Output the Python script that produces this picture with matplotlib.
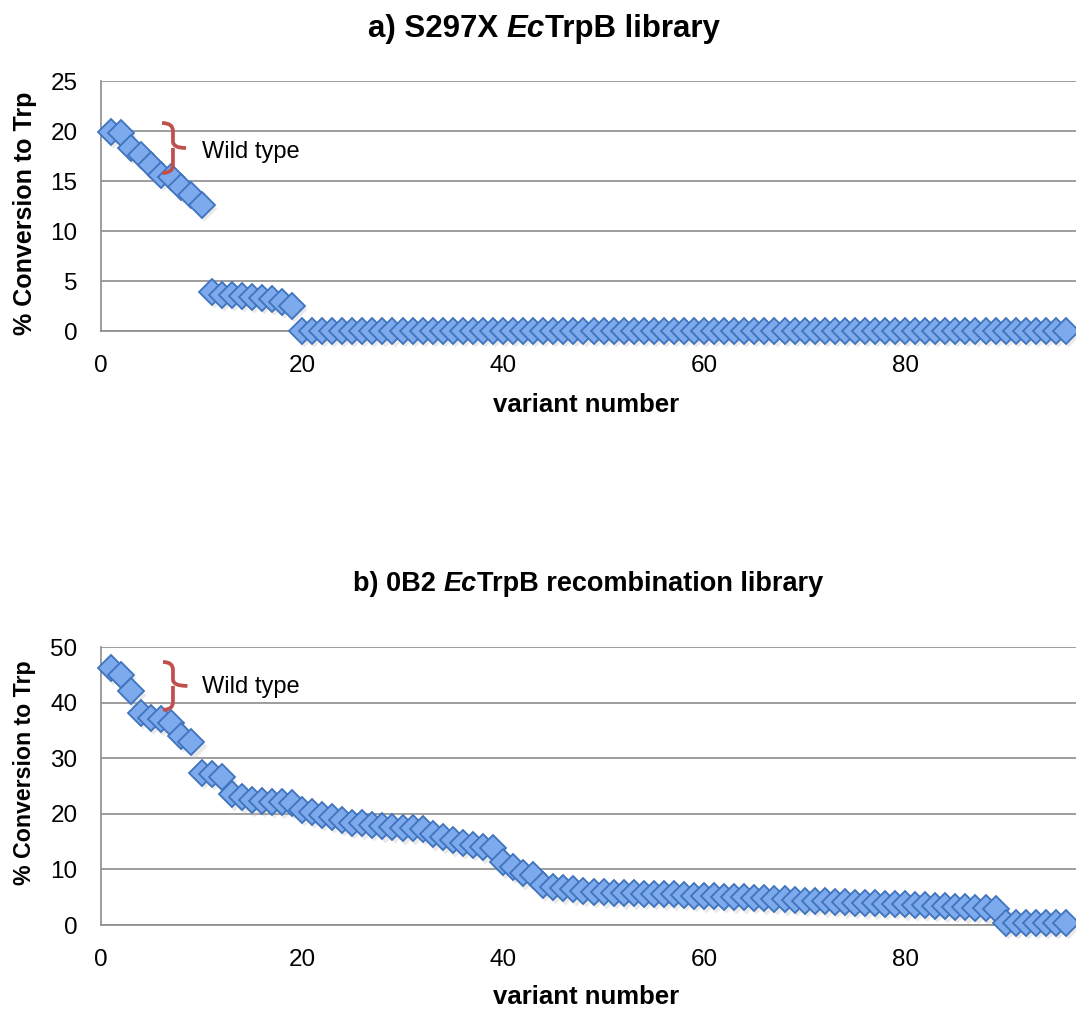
import matplotlib
matplotlib.use("Agg")
import matplotlib.pyplot as plt
import matplotlib.transforms as mtransforms
from matplotlib.path import Path
from matplotlib.patches import PathPatch
from matplotlib.offsetbox import TextArea, HPacker, AnnotationBbox

plt.rcParams["font.family"] = ["Liberation Sans", "DejaVu Sans"]

# panel a) S297X library
variant_a = list(range(1, 97))
conv_a = ([19.9, 19.8, 18.3, 17.6, 16.6, 15.6, 15.4, 14.4, 13.6, 12.6,
           3.9, 3.6, 3.6, 3.5, 3.4, 3.3, 3.2, 2.9, 2.5]
          + [0.0] * 77)

# panel b) 0B2 recombination library
variant_b = list(range(1, 97))
conv_b = [46.2, 45.0, 42.0, 38.2, 37.3, 37.0, 36.4, 34.0, 32.9, 27.4,
          27.2, 26.6, 23.5, 23.0, 22.4, 22.3, 22.2, 22.1, 22.0, 20.7,
          20.4, 19.8, 19.5, 18.9, 18.4, 18.3, 18.0, 17.8, 17.7, 17.4,
          17.4, 17.3, 16.3, 15.8, 15.2, 14.8, 14.4, 14.0, 13.8, 11.3,
          10.5, 9.3, 9.0, 7.2, 6.8, 6.6, 6.4, 6.2, 6.0, 5.9,
          5.8, 5.7, 5.7, 5.6, 5.6, 5.5, 5.5, 5.4, 5.3, 5.2,
          5.2, 5.1, 5.0, 5.0, 4.9, 4.8, 4.7, 4.6, 4.5, 4.4,
          4.4, 4.3, 4.2, 4.1, 4.0, 3.9, 3.9, 3.8, 3.8, 3.7,
          3.6, 3.6, 3.5, 3.4, 3.3, 3.2, 3.1, 3.0, 2.9, 0.4,
          0.4, 0.4, 0.4, 0.4, 0.4, 0.4]

xticks = [0, 20, 40, 60, 80]
yticks_a = [0, 5, 10, 15, 20, 25]
yticks_b = [0, 10, 20, 30, 40, 50]

GRID = "#8c8c8c"
FACE = "#7DAAEC"
EDGE = "#3E73BE"
BRACKET = "#C0504D"


def style_axes(ax, yticks):
    ax.set_xlim(0, 97)
    ax.set_ylim(yticks[0], yticks[-1])
    ax.set_xticks(xticks)
    ax.set_yticks(yticks)
    ax.grid(axis="y", color=GRID, lw=1.2)
    ax.set_axisbelow(True)
    for side in ("top", "right"):
        ax.spines[side].set_visible(False)
    for side in ("left", "bottom"):
        ax.spines[side].set_color(GRID)
        ax.spines[side].set_linewidth(1.2)
    ax.tick_params(length=0, labelsize=17.5, pad=17)


def draw_points(ax, x, y):
    shadow = mtransforms.offset_copy(ax.transData, fig=ax.figure, x=1.5, y=-2.5, units="points")
    ax.plot(x, y, ls="none", marker="D", ms=13, mfc="#b8b8b8", mec="none",
            alpha=0.3, transform=shadow, zorder=2, clip_on=False)
    ax.plot(x, y, ls="none", marker="D", ms=13, mfc=FACE, mec=EDGE, mew=1.3,
            zorder=3, clip_on=False)


def bracket(ax, x0, xv, xn, ytop, ybot, r):
    ymid = (ytop + ybot) / 2
    verts = [(x0, ytop), (xv, ytop), (xv, ytop - r),
             (xv, ymid + r * 0.8),
             (xv, ymid), (xn, ymid),
             (xv, ymid), (xv, ymid - r * 0.8),
             (xv, ybot + r),
             (xv, ybot), (x0, ybot)]
    codes = [Path.MOVETO, Path.CURVE3, Path.CURVE3,
             Path.LINETO,
             Path.CURVE3, Path.CURVE3,
             Path.MOVETO, Path.CURVE3,
             Path.LINETO,
             Path.CURVE3, Path.CURVE3]
    ax.add_patch(PathPatch(Path(verts, codes), fc="none", ec=BRACKET, lw=2.7,
                           capstyle="butt", zorder=4))


def title(fig, parts, x, y, size):
    boxes = []
    for txt, italic in parts:
        boxes.append(TextArea(txt, textprops=dict(fontsize=size, fontweight="bold",
                                                  fontstyle="italic" if italic else "normal")))
    pack = HPacker(children=boxes, pad=0, sep=0, align="baseline")
    ab = AnnotationBbox(pack, (x, y), xycoords="figure fraction", frameon=False,
                        box_alignment=(0.5, 0.5))
    fig.add_artist(ab)


fig = plt.figure(figsize=(10.76, 10.10), dpi=100)
W, H = 1076, 1010
ax_a = fig.add_axes([101 / W, 1 - 331 / H, 975 / W, 250 / H])
ax_b = fig.add_axes([101 / W, 1 - 925 / H, 975 / W, 278 / H])

style_axes(ax_a, yticks_a)
style_axes(ax_b, yticks_b)
draw_points(ax_a, variant_a, conv_a)
draw_points(ax_b, variant_b, conv_b)

ax_a.set_ylabel("% Conversion to Trp", fontsize=18, fontweight="bold", va="center")
ax_a.yaxis.set_label_coords(-0.078, 0.47)
ax_a.set_xlabel("variant number", fontsize=18.5, fontweight="bold", va="center")
ax_a.xaxis.set_label_coords(0.497, -0.296)

ax_b.set_ylabel("% Conversion to Trp", fontsize=16.7, fontweight="bold", va="center")
ax_b.yaxis.set_label_coords(-0.078, 0.547)
ax_b.set_xlabel("variant number", fontsize=18.5, fontweight="bold", va="center")
ax_b.xaxis.set_label_coords(0.497, -0.259)

# wild type markers
bracket(ax_a, 6.07, 7.16, 8.46, 20.8, 15.8, 0.8)
ax_a.text(10.05, 17.9, "Wild type", fontsize=17, va="center", ha="left")
bracket(ax_b, 6.17, 7.16, 8.6, 47.3, 38.7, 1.4)
ax_b.text(10.05, 42.8, "Wild type", fontsize=17, va="center", ha="left")

title(fig, [("a) S297X ", False), ("Ec", True), ("TrpB library", False)], 544 / W, 1 - 29 / H, 22.5)
title(fig, [("b) 0B2 ", False), ("Ec", True), ("TrpB recombination library", False)], 588 / W, 1 - 584 / H, 19.5)

fig.savefig("out.png", dpi=100)
